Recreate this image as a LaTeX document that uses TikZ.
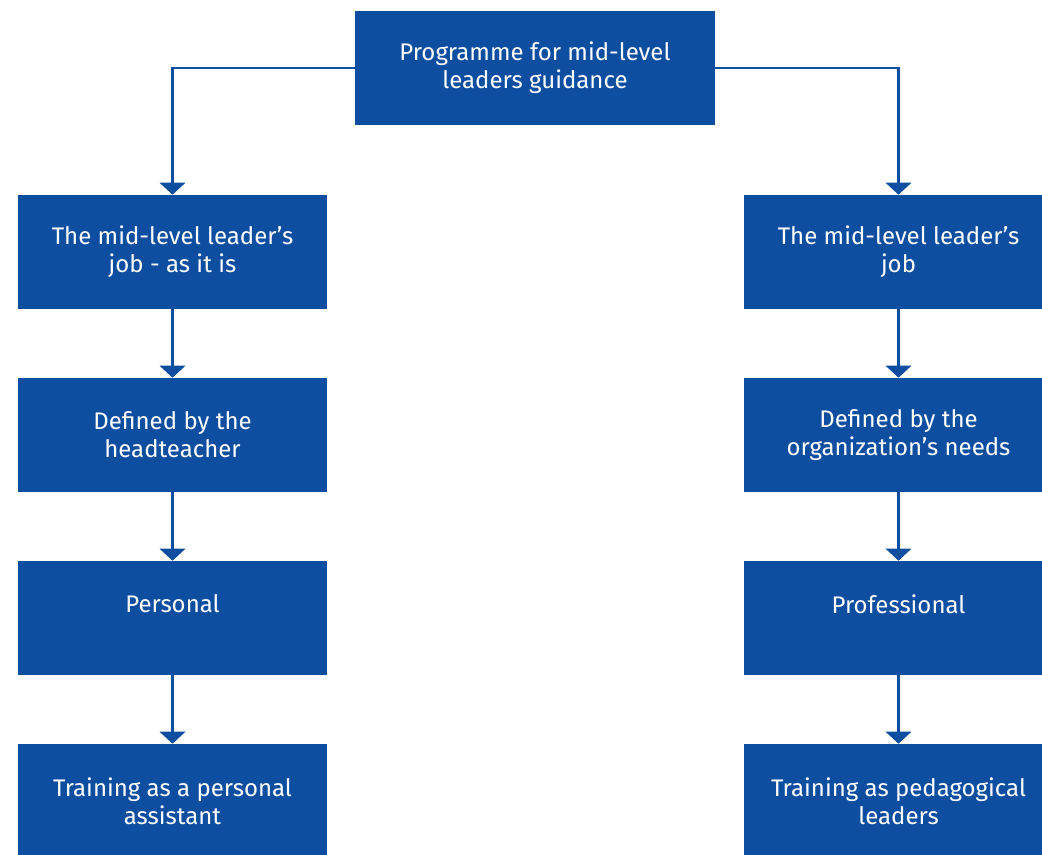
\documentclass[tikz,border=0pt]{standalone}
\usepackage{fontspec}
\setmainfont{Fira Sans}
\usepackage{tikz}
\usetikzlibrary{shapes, positioning, arrows.meta}

\begin{document}
\begin{tikzpicture}[x=0.75pt, y=0.75pt]

% Define colors
\definecolor{blauw}{RGB}{14,78,161}

\tikzset{
  blok/.style={fill=blauw, text=white, align=center, inner sep=0pt,
    minimum width=231.75pt, minimum height=85.5pt,
    font=\fontsize{18}{21}\selectfont},
  pijl/.style={draw=blauw, line width=1.9pt, -{Triangle[width=19pt, length=9pt]}}
}

% Canvas
\useasboundingbox (0,0) rectangle (1042,855);

% Top box
\node[blok, minimum width=270pt] (prog) at (535,787) {Programme for mid-level\\leaders guidance};

% Left column
\node[blok] (jobnu) at (172.5,603) {The mid-level leader's\\job - as it is};
\node[blok] (hoofd) at (172.5,420) {Defined by the\\headteacher};
\node[blok] (pers) at (172.5,237) {Personal\\\mbox{}};
\node[blok] (assist) at (172.5,54) {Training as a personal\\assistant};

% Right column
\node[blok] (job) at (898.5,603) {The mid-level leader's\\job};
\node[blok] (org) at (898.5,420) {Defined by the\\organization's needs};
\node[blok] (prof) at (898.5,237) {Professional\\\mbox{}};
\node[blok] (ped) at (898.5,54) {Training as pedagogical\\leaders};

% Connectors
\draw[pijl] (prog.west) -| (jobnu.north);
\draw[pijl] (prog.east) -| (job.north);

\draw[pijl] (jobnu) -- (hoofd);
\draw[pijl] (hoofd) -- (pers);
\draw[pijl] (pers) -- (assist);

\draw[pijl] (job) -- (org);
\draw[pijl] (org) -- (prof);
\draw[pijl] (prof) -- (ped);

\end{tikzpicture}
\end{document}
